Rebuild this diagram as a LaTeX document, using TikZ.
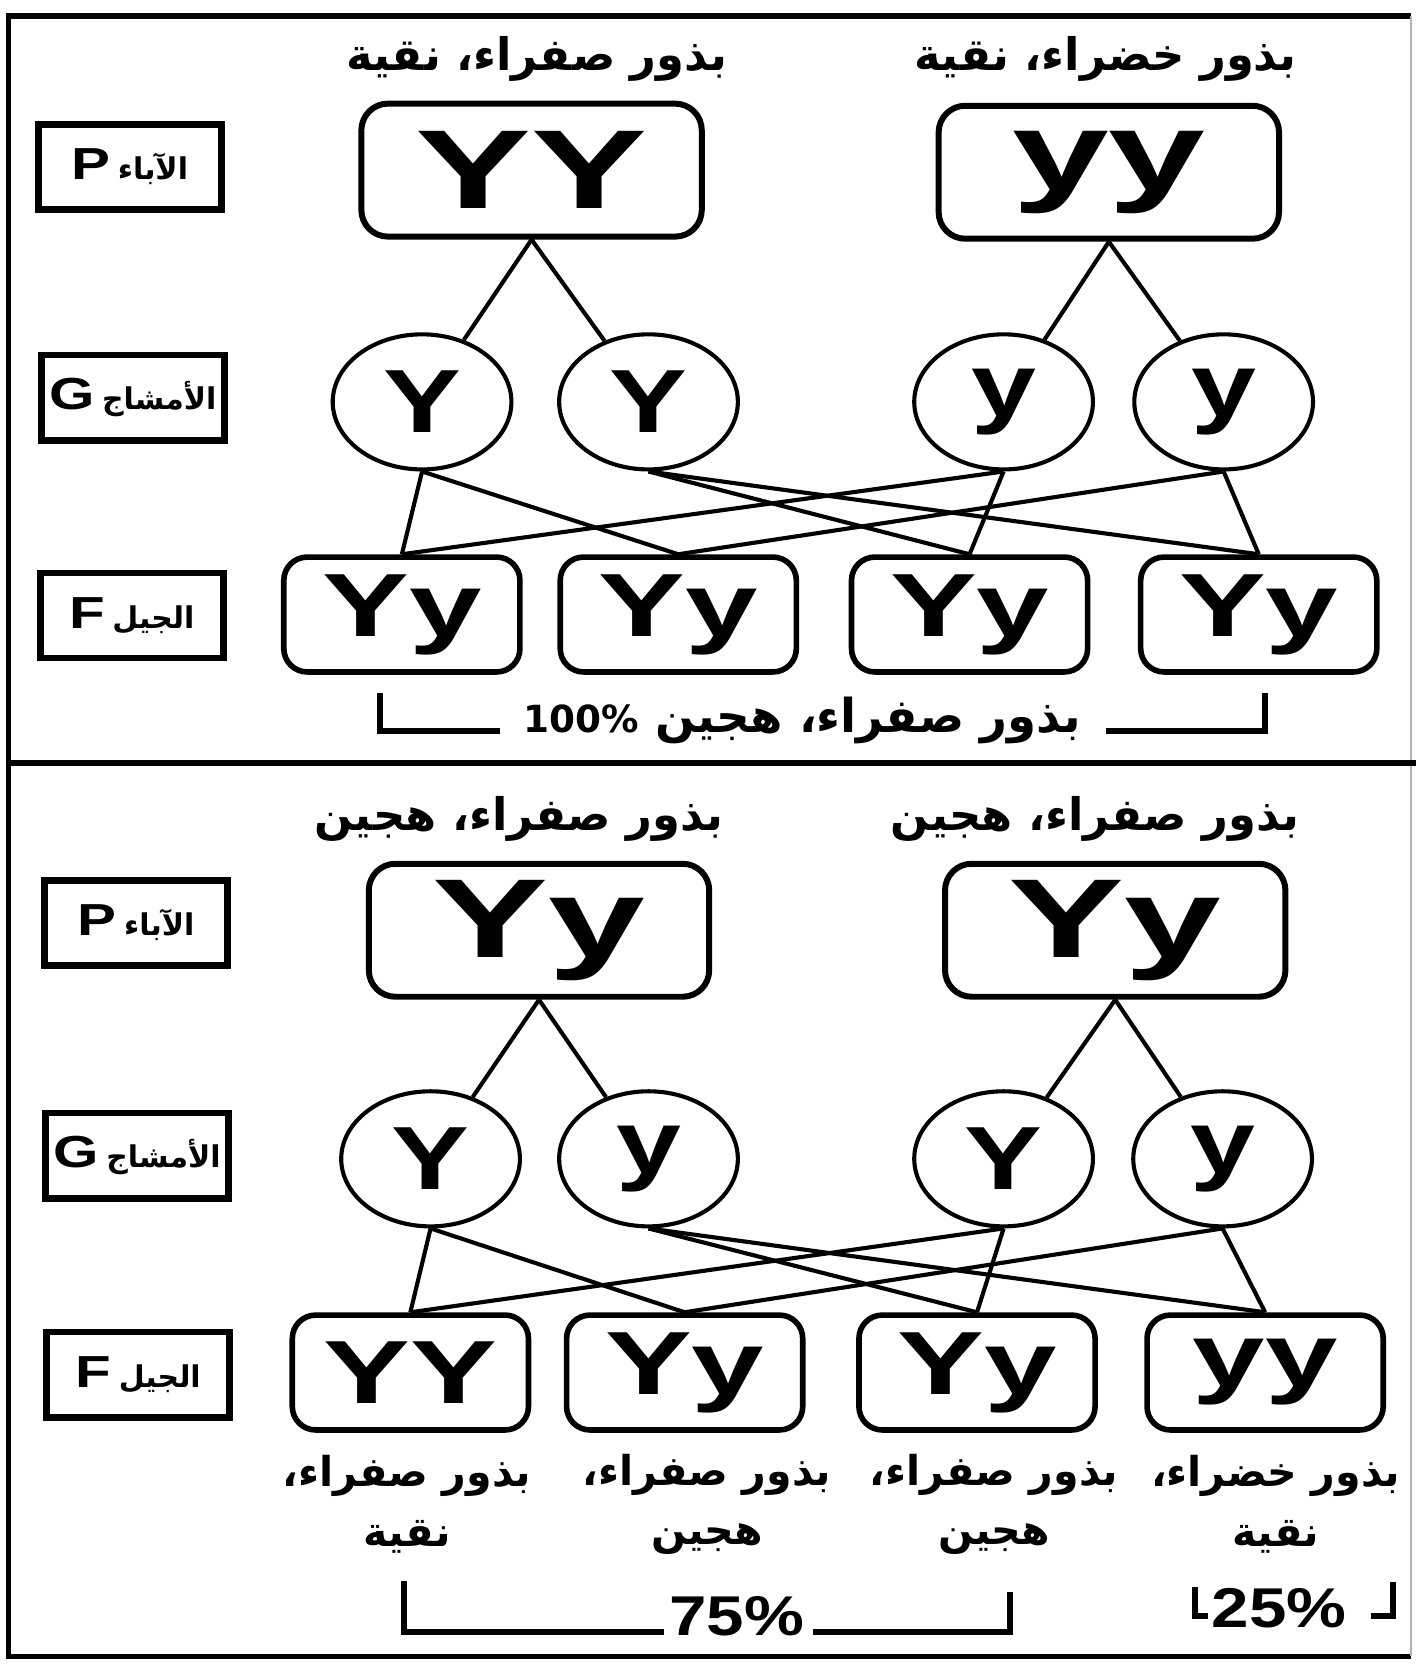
\documentclass[tikz,border=0pt]{standalone}
\usepackage{fontspec}
\usepackage{graphicx}
\setmainfont{Liberation Sans}
\newfontfamily\arabicfont[Script=Arabic]{DejaVu Sans}
\TeXXeTstate=1
\usetikzlibrary{shapes.geometric}

\newcommand{\hstretch}[2][1.45]{\scalebox{#1}[1]{#2}}
\newcommand{\artext}[1]{{\arabicfont\bfseries\beginR #1\endR}}

\begin{document}
\begin{tikzpicture}[
  x=0.01cm, y=-0.01cm,
  parentbox/.style={draw, line width=1.6pt, rounded corners=0.25cm, minimum width=3.2cm,
                    minimum height=1.25cm, inner sep=0pt, font=\bfseries\fontsize{30}{30}\selectfont},
  gamete/.style={ellipse, draw, line width=1.1pt, minimum width=1.68cm, minimum height=1.27cm,
                 inner sep=0pt, font=\bfseries\fontsize{24}{24}\selectfont},
  childbox/.style={draw, line width=1.5pt, rounded corners=0.22cm, minimum width=2.22cm,
                   minimum height=1.08cm, inner sep=0pt, font=\bfseries\fontsize{24}{24}\selectfont},
  genbox/.style={draw, line width=1.8pt, minimum width=1.72cm, minimum height=0.8cm,
                 inner sep=0pt, font=\bfseries\fontsize{12}{12}\selectfont},
  title/.style={font=\fontsize{12}{12}\selectfont},
  pheno/.style={font=\fontsize{11}{16}\selectfont, align=center},
  link/.style={line width=1.1pt},
  bracket/.style={line width=1.6pt}
]
\useasboundingbox (0,0) rectangle (1332,1568);

% Frame and divider
\draw[line width=1.4pt] (1327,15) -- (8,15) -- (8,1558) -- (1327,1558);
\draw[gray!60, line width=0.6pt] (1327,15) -- (1327,1558);
\draw[line width=1.6pt] (8,718) -- (1332,718);

% ---- Upper cross: YY x yy ----
\node[title] (t1) at (505,55) {\artext{بذور صفراء، نقية}};
\node[title] (t2) at (1040,55) {\artext{بذور خضراء، نقية}};

\node[genbox] (lp1) at (122,157) {\hstretch[1.3]{P}\,\artext{\fontsize{8}{8}\selectfont الآباء}};
\node[genbox] (lg1) at (125,374) {\hstretch[1.3]{G}\,\artext{\fontsize{8}{8}\selectfont الأمشاج}};
\node[genbox] (lf1) at (124,579) {\hstretch[1.3]{F}\,\artext{\fontsize{8}{8}\selectfont الجيل}};

\node[parentbox] (pa) at (500,160) {\hstretch[1.55]{YY}};
\node[parentbox] (pb) at (1043,162) {\hstretch[1.55]{yy}};

\node[gamete] (ga1) at (397,378) {\hstretch[1.3]{Y}};
\node[gamete] (ga2) at (610,378) {\hstretch[1.3]{Y}};
\node[gamete] (ga3) at (944,378) {\hstretch[1.3]{y}};
\node[gamete] (ga4) at (1151,378) {\hstretch[1.3]{y}};

\node[childbox] (fa1) at (378,578) {\hstretch{Yy}};
\node[childbox] (fa2) at (638,578) {\hstretch{Yy}};
\node[childbox] (fa3) at (912,578) {\hstretch{Yy}};
\node[childbox] (fa4) at (1184,578) {\hstretch{Yy}};

\draw[link] (pa.south) -- (ga1);
\draw[link] (pa.south) -- (ga2);
\draw[link] (pb.south) -- (ga3);
\draw[link] (pb.south) -- (ga4);
\draw[link] (ga1.south) -- (fa1.north);
\draw[link] (ga1.south) -- (fa2.north);
\draw[link] (ga2.south) -- (fa3.north);
\draw[link] (ga2.south) -- (fa4.north);
\draw[link] (ga3.south) -- (fa1.north);
\draw[link] (ga3.south) -- (fa3.north);
\draw[link] (ga4.south) -- (fa2.north);
\draw[link] (ga4.south) -- (fa4.north);

\node[title, font=\fontsize{12.5}{12.5}\selectfont] (ra) at (755,678) {\artext{بذور صفراء، هجين \beginL{\fontsize{10}{10}\selectfont 100\%}\endL}};
\draw[bracket] (357,652) -- (357,688) -- (470,688);
\draw[bracket] (1040,688) -- (1190,688) -- (1190,652);

% ---- Lower cross: Yy x Yy ----
\node[title] (t3) at (488,770) {\artext{بذور صفراء، هجين}};
\node[title] (t4) at (1030,770) {\artext{بذور صفراء، هجين}};

\node[genbox] (lp2) at (128,868) {\hstretch[1.3]{P}\,\artext{\fontsize{8}{8}\selectfont الآباء}};
\node[genbox] (lg2) at (129,1087) {\hstretch[1.3]{G}\,\artext{\fontsize{8}{8}\selectfont الأمشاج}};
\node[genbox] (lf2) at (130,1293) {\hstretch[1.3]{F}\,\artext{\fontsize{8}{8}\selectfont الجيل}};

\node[parentbox] (pc) at (507,875) {\hstretch[1.55]{Yy}};
\node[parentbox] (pd) at (1049,875) {\hstretch[1.55]{Yy}};

\node[gamete] (gb1) at (405,1090) {\hstretch[1.3]{Y}};
\node[gamete] (gb2) at (610,1090) {\hstretch[1.3]{y}};
\node[gamete] (gb3) at (944,1090) {\hstretch[1.3]{Y}};
\node[gamete] (gb4) at (1150,1090) {\hstretch[1.3]{y}};

\node[childbox] (fb1) at (386,1291) {\hstretch{YY}};
\node[childbox] (fb2) at (644,1291) {\hstretch{Yy}};
\node[childbox] (fb3) at (919,1291) {\hstretch{Yy}};
\node[childbox] (fb4) at (1190,1291) {\hstretch{yy}};

\draw[link] (pc.south) -- (gb1);
\draw[link] (pc.south) -- (gb2);
\draw[link] (pd.south) -- (gb3);
\draw[link] (pd.south) -- (gb4);
\draw[link] (gb1.south) -- (fb1.north);
\draw[link] (gb1.south) -- (fb2.north);
\draw[link] (gb2.south) -- (fb3.north);
\draw[link] (gb2.south) -- (fb4.north);
\draw[link] (gb3.south) -- (fb1.north);
\draw[link] (gb3.south) -- (fb3.north);
\draw[link] (gb4.south) -- (fb2.north);
\draw[link] (gb4.south) -- (fb4.north);

% Phenotypes
\node[pheno] (ph1) at (383,1415) {\artext{بذور صفراء،}\\\artext{نقية}};
\node[pheno] (ph2) at (665,1415) {\artext{بذور صفراء،}\\\artext{هجين}};
\node[pheno] (ph3) at (935,1415) {\artext{بذور صفراء،}\\\artext{هجين}};
\node[pheno] (ph4) at (1200,1415) {\artext{بذور خضراء،}\\\artext{نقية}};

% Ratios
\node[font=\bfseries\fontsize{15}{15}\selectfont] (r75) at (693,1520) {\hstretch[1.2]{75\%}};
\draw[bracket] (380,1487) -- (380,1535) -- (625,1535);
\draw[bracket] (765,1535) -- (950,1535) -- (950,1497);
\node[font=\bfseries\fontsize{15}{15}\selectfont] (r25) at (1203,1513) {\hstretch[1.2]{25\%}};
\draw[bracket] (1124,1493) -- (1124,1520) -- (1136,1520);
\draw[bracket] (1290,1520) -- (1310,1520) -- (1310,1488);

\end{tikzpicture}
\end{document}
